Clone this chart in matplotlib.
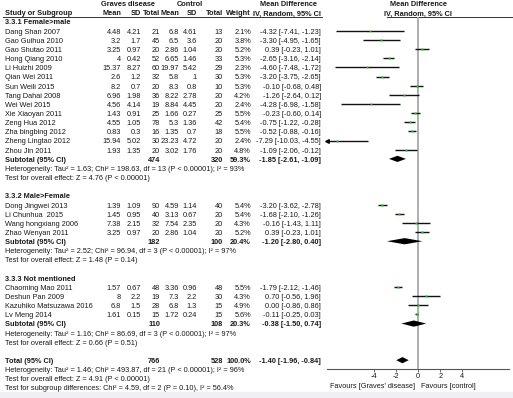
"""Forest plot: Graves disease vs control, mean difference by subgroup."""
import matplotlib
matplotlib.use('Agg')
import matplotlib.pyplot as plt
from matplotlib.patches import Rectangle, Polygon

plt.rcParams['font.family'] = ['Liberation Sans', 'DejaVu Sans']

# ---- data ----
group_titles = ['3.3.1 Female>male', '3.3.2 Male>Female', '3.3.3 Not mentioned']
study_group = [0, 0, 0, 0, 0, 0, 0, 0, 0, 0, 0, 0, 0, 0,
               1, 1, 1, 1,
               2, 2, 2, 2]
studies = ['Dang Shan 2007', 'Gao Guihua 2010', 'Gao Shutao 2011', 'Hong Qiang 2010',
           'Li Huizhi 2009', 'Qian Wei 2011', 'Sun Weili 2015', 'Tang Dahai 2008',
           'Wei Wei 2015', 'Xie Xiaoyan 2011', 'Zeng Hua 2012', 'Zha bingbing 2012',
           'Zheng Lingtao 2012', 'Zhou Jin 2011',
           'Dong Jingwei 2013', 'Li Chunhua  2015', 'Wang hongxiang 2006', 'Zhao Wenyan 2011',
           'Chaoming Mao 2011', 'Deshun Pan 2009', 'Kazuhiko Matsuzawa 2016', 'Lv Meng 2014']
trt_mean = [4.48, 3.2, 3.25, 4, 15.37, 2.6, 8.2, 6.96, 4.56, 1.43, 4.55, 0.83, 15.94, 1.93,
            1.39, 1.45, 7.38, 3.25,
            1.57, 8, 6.8, 1.61]
trt_sd = [4.21, 1.7, 0.97, 0.42, 8.27, 1.2, 0.7, 1.98, 4.14, 0.91, 1.05, 0.3, 5.02, 1.35,
          1.09, 0.95, 2.15, 0.97,
          0.67, 2.2, 1.5, 0.15]
trt_n = [21, 45, 20, 52, 60, 32, 20, 36, 19, 25, 78, 16, 30, 20,
         90, 40, 32, 20,
         48, 19, 28, 15]
ctl_mean = [6.8, 6.5, 2.86, 6.65, 19.97, 5.8, 8.3, 8.22, 8.84, 1.66, 5.3, 1.35, 23.23, 3.02,
            4.59, 3.13, 7.54, 2.86,
            3.36, 7.3, 6.8, 1.72]
ctl_sd = [4.61, 3.6, 1.04, 1.46, 5.42, 1, 0.8, 2.78, 4.45, 0.27, 1.36, 0.7, 4.72, 1.76,
          1.14, 0.67, 2.35, 1.04,
          0.96, 2.2, 1.3, 0.24]
ctl_n = [13, 20, 20, 33, 29, 30, 10, 20, 20, 25, 42, 18, 20, 20,
         40, 20, 20, 20,
         48, 30, 15, 15]
weight = [2.1, 3.8, 5.2, 5.3, 2.3, 5.3, 5.3, 4.2, 2.4, 5.5, 5.4, 5.5, 2.4, 4.8,
          5.4, 5.4, 4.3, 5.2,
          5.5, 4.3, 4.9, 5.6]
md = [-4.32, -3.30, 0.39, -2.65, -4.60, -3.20, -0.10, -1.26, -4.28, -0.23, -0.75, -0.52, -7.29, -1.09,
      -3.20, -1.68, -0.16, 0.39,
      -1.79, 0.70, 0.00, -0.11]
md_lo = [-7.41, -4.95, -0.23, -3.16, -7.48, -3.75, -0.68, -2.64, -6.98, -0.60, -1.22, -0.88, -10.03, -2.06,
         -3.62, -2.10, -1.43, -0.23,
         -2.12, -0.56, -0.86, -0.25]
md_hi = [-1.23, -1.65, 1.01, -2.14, -1.72, -2.65, 0.48, 0.12, -1.58, 0.14, -0.28, -0.16, -4.55, -0.12,
         -2.78, -1.26, 1.11, 1.01,
         -1.46, 1.96, 0.86, 0.03]

sub_trt_n = [474, 182, 110]
sub_ctl_n = [320, 100, 108]
sub_weight = [59.3, 20.4, 20.3]
sub_md = [-1.85, -1.20, -0.38]
sub_lo = [-2.61, -2.80, -1.50]
sub_hi = [-1.09, 0.40, 0.74]
sub_het = ['Heterogeneity: Tau\u00b2 = 1.63; Chi\u00b2 = 198.63, df = 13 (P < 0.00001); I\u00b2 = 93%',
           'Heterogeneity: Tau\u00b2 = 2.52; Chi\u00b2 = 96.94, df = 3 (P < 0.00001); I\u00b2 = 97%',
           'Heterogeneity: Tau\u00b2 = 1.16; Chi\u00b2 = 86.69, df = 3 (P < 0.00001); I\u00b2 = 97%']
sub_test = ['Test for overall effect: Z = 4.76 (P < 0.00001)',
            'Test for overall effect: Z = 1.48 (P = 0.14)',
            'Test for overall effect: Z = 0.66 (P = 0.51)']

tot_trt_n, tot_ctl_n, tot_weight = 766, 528, 100.0
tot_md, tot_lo, tot_hi = -1.40, -1.96, -0.84
tot_notes = ['Heterogeneity: Tau\u00b2 = 1.46; Chi\u00b2 = 493.87, df = 21 (P < 0.00001); I\u00b2 = 96%',
             'Test for overall effect: Z = 4.91 (P < 0.00001)',
             'Test for subgroup differences: Chi\u00b2 = 4.59, df = 2 (P = 0.10), I\u00b2 = 56.4%']

xticks = [-4, -2, 0, 2, 4]
xlim = (-8.2, 8.2)

# ---- layout (pixels) ----
W, H = 513, 398
FS = 5.3
TXT = '#1a1a1a'
ROW0, DY = 23.0, 9.15
col_x = {'name': 5, 'tm': 121, 'ts': 141, 'tn': 160, 'cm': 179, 'cs': 197,
         'cn': 223, 'w': 251, 'ci': 321}


def ypx(r):
    return ROW0 + DY * r


def fmt_ci(m, lo, hi):
    return f'{m:.2f} [{lo:.2f}, {hi:.2f}]'


fig = plt.figure(figsize=(W / 100, H / 100), dpi=100)
fig.patches.append(Rectangle((0, 0), 1, 6 / H, transform=fig.transFigure,
                             color='#eef0f6', zorder=0))

ax0 = fig.add_axes([0, 0, 1, 1])
ax0.set_xlim(0, W)
ax0.set_ylim(H, 0)
ax0.axis('off')

# forest panel: x in mean-difference units, y in table rows
top_px, bot_px = 17.3, 369.0
left_px, right_px = 327.0, 509.0
axf = fig.add_axes([left_px / W, 1 - bot_px / H, (right_px - left_px) / W, (bot_px - top_px) / H])
axf.set_xlim(*xlim)
axf.set_ylim((bot_px - ROW0) / DY, (top_px - ROW0) / DY)
axf.patch.set_alpha(0)
for s in ['top', 'right', 'left']:
    axf.spines[s].set_visible(False)
axf.spines['bottom'].set_color('#555555')
axf.spines['bottom'].set_linewidth(0.8)
axf.set_yticks([])
axf.set_xticks(xticks)
axf.set_xticklabels([str(t) for t in xticks])
axf.tick_params(axis='x', length=2.2, width=0.6, pad=0.8, labelsize=FS,
                colors='#555555', labelcolor=TXT)
axf.axvline(0, color='#a8a8a8', lw=1.3, zorder=1)


def txt(x, r, s, ha='right', bold=False):
    ax0.text(x, ypx(r), s, ha=ha, va='center', fontsize=FS, color=TXT,
             fontweight='bold' if bold else 'normal')


def diamond(r, m, lo, hi):
    y = r - 0.15
    h = 0.34
    axf.add_patch(Polygon([(lo, y), (m, y - h), (hi, y), (m, y + h)],
                          closed=True, color='black', lw=0, zorder=3))


# headers
ax0.text(128, ypx(-2), 'Graves disease', ha='center', va='center', fontsize=FS,
         fontweight='bold', color=TXT)
ax0.text(190, ypx(-2), 'Control', ha='center', va='center', fontsize=FS,
         fontweight='bold', color=TXT)
ax0.text(288, ypx(-2), 'Mean Difference', ha='center', va='center', fontsize=FS,
         fontweight='bold', color=TXT)
ax0.text(418, ypx(-2), 'Mean Difference', ha='center', va='center', fontsize=FS,
         fontweight='bold', color=TXT)
txt(col_x['name'], -1, 'Study or Subgroup', ha='left', bold=True)
for key, lab in [('tm', 'Mean'), ('ts', 'SD'), ('tn', 'Total'), ('cm', 'Mean'),
                 ('cs', 'SD'), ('cn', 'Total'), ('w', 'Weight'),
                 ('ci', 'IV, Random, 95% CI')]:
    txt(col_x[key], -1, lab, bold=True)
ax0.text(418, ypx(-1), 'IV, Random, 95% CI', ha='center', va='center', fontsize=FS,
         fontweight='bold', color=TXT)
ax0.plot([3, 322], [top_px, top_px], color='#333333', lw=0.7)
ax0.plot([387, W], [top_px, top_px], color='#333333', lw=0.7)

# body
r = 0
for g, title in enumerate(group_titles):
    txt(col_x['name'], r, title, ha='left', bold=True)
    r += 1
    for i in [k for k, gg in enumerate(study_group) if gg == g]:
        txt(col_x['name'], r, studies[i], ha='left')
        txt(col_x['tm'], r, f'{trt_mean[i]:g}')
        txt(col_x['ts'], r, f'{trt_sd[i]:g}')
        txt(col_x['tn'], r, f'{trt_n[i]}')
        txt(col_x['cm'], r, f'{ctl_mean[i]:g}')
        txt(col_x['cs'], r, f'{ctl_sd[i]:g}')
        txt(col_x['cn'], r, f'{ctl_n[i]}')
        txt(col_x['w'], r, f'{weight[i]:.1f}%')
        txt(col_x['ci'], r, fmt_ci(md[i], md_lo[i], md_hi[i]))
        y = r - 0.15
        lo = max(md_lo[i], xlim[0])
        axf.plot([lo, min(md_hi[i], xlim[1])], [y, y], color='#111111', lw=1.0,
                 zorder=2, solid_capstyle='butt')
        if md_lo[i] < xlim[0]:
            axf.plot([xlim[0]], [y], marker='<', ms=2.6, color='black', zorder=3, clip_on=False)
        axf.plot([md[i]], [y], marker='s', ms=0.8 + 0.2 * weight[i], color='#19c819',
                 mec='none', zorder=4)
        r += 1
    txt(col_x['name'], r, 'Subtotal (95% CI)', ha='left', bold=True)
    txt(col_x['tn'], r, f'{sub_trt_n[g]}', bold=True)
    txt(col_x['cn'], r, f'{sub_ctl_n[g]}', bold=True)
    txt(col_x['w'], r, f'{sub_weight[g]:.1f}%', bold=True)
    txt(col_x['ci'], r, fmt_ci(sub_md[g], sub_lo[g], sub_hi[g]), bold=True)
    diamond(r, sub_md[g], sub_lo[g], sub_hi[g])
    r += 1
    txt(col_x['name'], r, sub_het[g], ha='left')
    r += 1
    txt(col_x['name'], r, sub_test[g], ha='left')
    r += 2

txt(col_x['name'], r, 'Total (95% CI)', ha='left', bold=True)
txt(col_x['tn'], r, f'{tot_trt_n}', bold=True)
txt(col_x['cn'], r, f'{tot_ctl_n}', bold=True)
txt(col_x['w'], r, f'{tot_weight:.1f}%', bold=True)
txt(col_x['ci'], r, fmt_ci(tot_md, tot_lo, tot_hi), bold=True)
diamond(r, tot_md, tot_lo, tot_hi)
for note in tot_notes:
    r += 1
    txt(col_x['name'], r, note, ha='left')

ax0.text(415.5, 386, "Favours [Graves' disease]", ha='right', va='center',
         fontsize=FS, color=TXT)
ax0.text(421, 386, 'Favours [control]', ha='left', va='center', fontsize=FS, color=TXT)

fig.savefig('out.png', dpi=100)
